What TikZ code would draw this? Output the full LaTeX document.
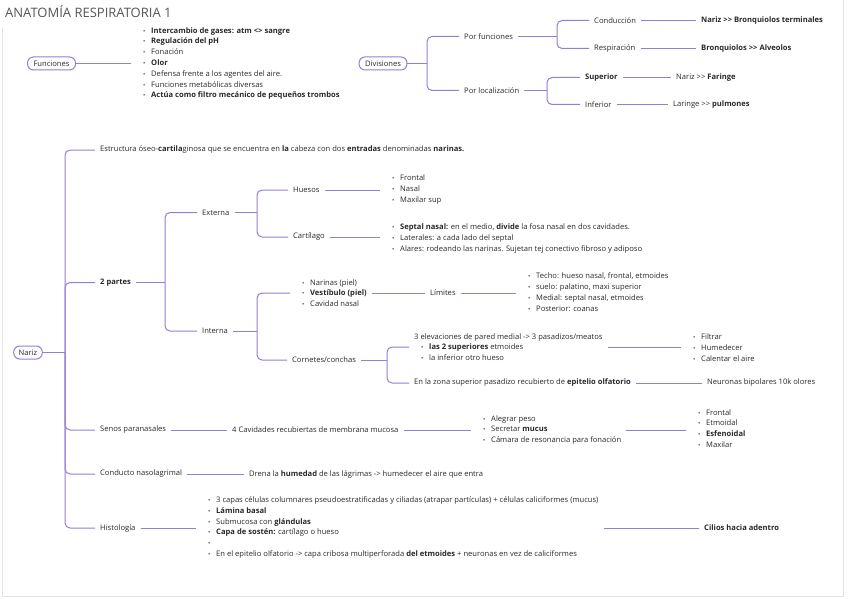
\documentclass[tikz,border=0pt]{standalone}
\usepackage{fontspec}
\setmainfont{Open Sans}[Ligatures=TeXOff]
\definecolor{ln}{RGB}{150,125,212}
\definecolor{tx}{RGB}{40,40,40}
\definecolor{ttl}{RGB}{85,85,85}
\definecolor{frm}{RGB}{228,228,228}
\newcommand\bux[1]{\hspace*{#1}\makebox[8pt][l]{\fontsize{6}{6}\selectfont\textcolor{tx}{•}}}
\newcommand\bu{\bux{7pt}}
\tikzset{
 conn/.style={draw=ln, line width=1pt},
 rc/.style={conn, rounded corners=5pt},
 tn/.style={anchor=west, inner xsep=5pt, inner ysep=1pt, font=\fontsize{7.6}{10.8}\selectfont, text=tx, align=left},
 topic/.style={draw=ln, line width=1pt, rounded corners=6pt, minimum height=13pt, inner xsep=6pt, inner ysep=2pt, font=\fontsize{7.6}{9}\selectfont, text=tx},
 frame/.style={draw=frm, line width=0.8pt}
}
\begin{document}
\begin{tikzpicture}[x=1pt,y=-1pt]
\useasboundingbox (0,0) rectangle (848,599);
\draw[frame] (2,28) -- (2,596) -- (843,596) -- (843,0);
\node[anchor=west, inner sep=0pt, font=\fontsize{13}{13}\selectfont, text=ttl] (title) at (5,12) {ANATOMÍA RESPIRATORIA 1};
% Funciones
\node[topic] (fun) at (51.5,63.5) {Funciones};
\node[tn] (funL) at (131,63.5) {\bu\textbf{Intercambio de gases: atm <> sangre}\\ \bu\textbf{Regulación del pH}\\ \bu Fonación\\ \bu\textbf{Olor}\\ \bu Defensa frente a los agentes del aire.\\ \bu Funciones metabólicas diversas\\ \bu\textbf{Actúa como filtro mecánico de pequeños trombos}};
\draw[conn] (fun.east) -- (funL.west);
% Divisiones
\node[topic] (div) at (383,63.5) {Divisiones};
\coordinate (vD) at (427,0);
\node[tn] (pfun) at (459,36.5) {Por funciones};
\node[tn] (ploc) at (459,90.5) {Por localización};
\draw[conn] (div.east) -- (div.east -| vD);
\draw[rc] (div.east -| vD) |- (pfun.west);
\draw[rc] (div.east -| vD) |- (ploc.west);
\coordinate (vPF) at (557,0);
\node[tn] (cond) at (589,20.5) {Conducción};
\node[tn] (resp) at (589,48.5) {Respiración};
\draw[conn] (pfun.east) -- (pfun.east -| vPF);
\draw[rc] (pfun.east -| vPF) |- (cond.west);
\draw[rc] (pfun.east -| vPF) |- (resp.west);
\node[tn] (nbt) at (696,20.5) {\textbf{Nariz >> Bronquiolos terminales}};
\node[tn] (bal) at (696,48.5) {\textbf{Bronquiolos >> Alveolos}};
\draw[conn] (cond.east) -- (nbt.west);
\draw[conn] (resp.east) -- (bal.west);
\coordinate (vPL) at (547,0);
\node[tn] (sup) at (580,77.5) {\textbf{Superior}};
\node[tn] (inf) at (580,104.5) {Inferior};
\draw[conn] (ploc.east) -- (ploc.east -| vPL);
\draw[rc] (ploc.east -| vPL) |- (sup.west);
\draw[rc] (ploc.east -| vPL) |- (inf.west);
\node[tn] (nfa) at (671,77.5) {Nariz >> \textbf{Faringe}};
\node[tn] (lpu) at (668,104.5) {Laringe >> \textbf{pulmones}};
\draw[conn] (sup.east) -- (nfa.west);
\draw[conn] (inf.east) -- (lpu.west);
% Nariz
\node[topic, inner xsep=5pt] (nar) at (28,352.5) {Nariz};
\coordinate (vN) at (65,0);
\node[tn] (est) at (95,150) {Estructura óseo-\textbf{cartila}ginosa que se encuentra en \textbf{la} cabeza con dos \textbf{entradas} denominadas \textbf{narinas.}};
\node[tn] (dos) at (95,282.5) {\textbf{2 partes}};
\node[tn] (sen) at (95,430) {Senos paranasales};
\node[tn] (con) at (95,474) {Conducto nasolagrimal};
\node[tn] (his) at (95,528) {Histología};
\draw[conn] (nar.east) -- (nar.east -| vN);
\foreach \c in {est,dos,sen,con,his} \draw[rc] (nar.east -| vN) |- (\c.west);
% 2 partes
\coordinate (vDP) at (165,0);
\node[tn] (ext) at (197,212.5) {Externa};
\node[tn] (int) at (197,331) {Interna};
\draw[conn] (dos.east) -- (dos.east -| vDP);
\draw[rc] (dos.east -| vDP) |- (ext.west);
\draw[rc] (dos.east -| vDP) |- (int.west);
% Externa
\coordinate (vEx) at (257,0);
\node[tn] (hue) at (288,190) {Huesos};
\node[tn] (car) at (288,237) {Cartílago};
\draw[conn] (ext.east) -- (ext.east -| vEx);
\draw[rc] (ext.east -| vEx) |- (hue.west);
\draw[rc] (ext.east -| vEx) |- (car.west);
\node[tn] (hueL) at (380,189.5) {\bu Frontal\\ \bu Nasal\\ \bu Maxilar sup};
\node[tn] (carL) at (380,238.5) {\bu\textbf{Septal nasal:} en el medio, \textbf{divide} la fosa nasal en dos cavidades.\\ \bu Laterales: a cada lado del septal\\ \bu Alares: rodeando las narinas. Sujetan tej conectivo fibroso y adiposo};
\draw[conn] (hue.east) -- (hue.east -| hueL.west);
\draw[conn] (car.east) -- (car.east -| carL.west);
% Interna
\coordinate (vIn) at (257,0);
\node[tn] (narL) at (290,293) {\bu Narinas (piel)\\ \bu \textbf{Vestíbulo (piel)}\\ \bu Cavidad nasal};
\node[tn] (cor) at (287,360) {Cornetes/conchas};
\draw[conn] (int.east) -- (int.east -| vIn);
\draw[rc] (int.east -| vIn) |- (narL.west);
\draw[rc] (int.east -| vIn) |- (cor.west);
\node[tn] (lim) at (425,293) {Límites};
\node[tn] (limL) at (516,292) {\bu Techo: hueso nasal, frontal, etmoides\\ \bu suelo: palatino, maxi superior\\ \bu Medial: septal nasal, etmoides\\ \bu Posterior: coanas};
\draw[conn] (narL.east |- lim.west) -- (lim.west);
\draw[conn] (lim.east) -- (lim.east -| limL.west);
% Cornetes
\coordinate (vCo) at (387,0);
\node[tn] (elev) at (409,347) {3 elevaciones de pared medial -> 3 pasadizos/meatos\\ \bu\textbf{las 2 superiores} etmoides\\ \bu la inferior otro hueso};
\node[tn] (zona) at (409,383) {En la zona superior pasadizo recubierto de \textbf{epitelio olfatorio}};
\draw[conn] (cor.east) -- (cor.east -| vCo);
\draw[rc] (cor.east -| vCo) |- (elev.west);
\draw[rc] (cor.east -| vCo) |- (zona.west);
\node[tn] (filL) at (681,347.5) {\bu Filtrar\\ \bu Humedecer\\ \bu Calentar el aire};
\node[tn] (neu) at (702,383) {Neuronas bipolares 10k olores};
\draw[conn] (elev.east) -- (elev.east -| filL.west);
\draw[conn] (zona.east) -- (neu.west);
% Senos
\node[tn] (cav) at (227,430) {4 Cavidades recubiertas de membrana mucosa};
\node[tn] (senL) at (471,430) {\bu Alegrar peso\\ \bu Secretar \textbf{mucus}\\ \bu Cámara de resonancia para fonación};
\node[tn] (senL2) at (686,428.5) {\bu Frontal\\ \bu Etmoidal\\ \bu \textbf{Esfenoidal}\\ \bu Maxilar};
\draw[conn] (sen.east) -- (cav.west);
\draw[conn] (cav.east) -- (cav.east -| senL.west);
\draw[conn] (senL.east |- cav.east) -- (senL.east |- cav.east -| senL2.west);
% Conducto
\node[tn] (dre) at (244,474) {Drena la \textbf{humedad} de las lágrimas -> humedecer el aire que entra};
\draw[conn] (con.east) -- (dre.west);
% Histologia
\node[tn] (hisL) at (196,527.5) {\bu 3 capas células columnares pseudoestratificadas y ciliadas (atrapar partículas) + células caliciformes (mucus)\\ \bu \textbf{Lámina basal}\\ \bu Submucosa con \textbf{glándulas}\\ \bu \textbf{Capa de sostén:} cartílago o hueso\\ \bu\\ \bu En el epitelio olfatorio -> capa cribosa multiperforada \textbf{del etmoides} + neuronas en vez de caliciformes};
\node[tn] (cil) at (699,528) {\textbf{Cilios hacia adentro}};
\draw[conn] (his.east) -- (his.east -| hisL.west);
\draw[conn] (hisL.east |- cil.west) -- (cil.west);
\end{tikzpicture}
\end{document}
